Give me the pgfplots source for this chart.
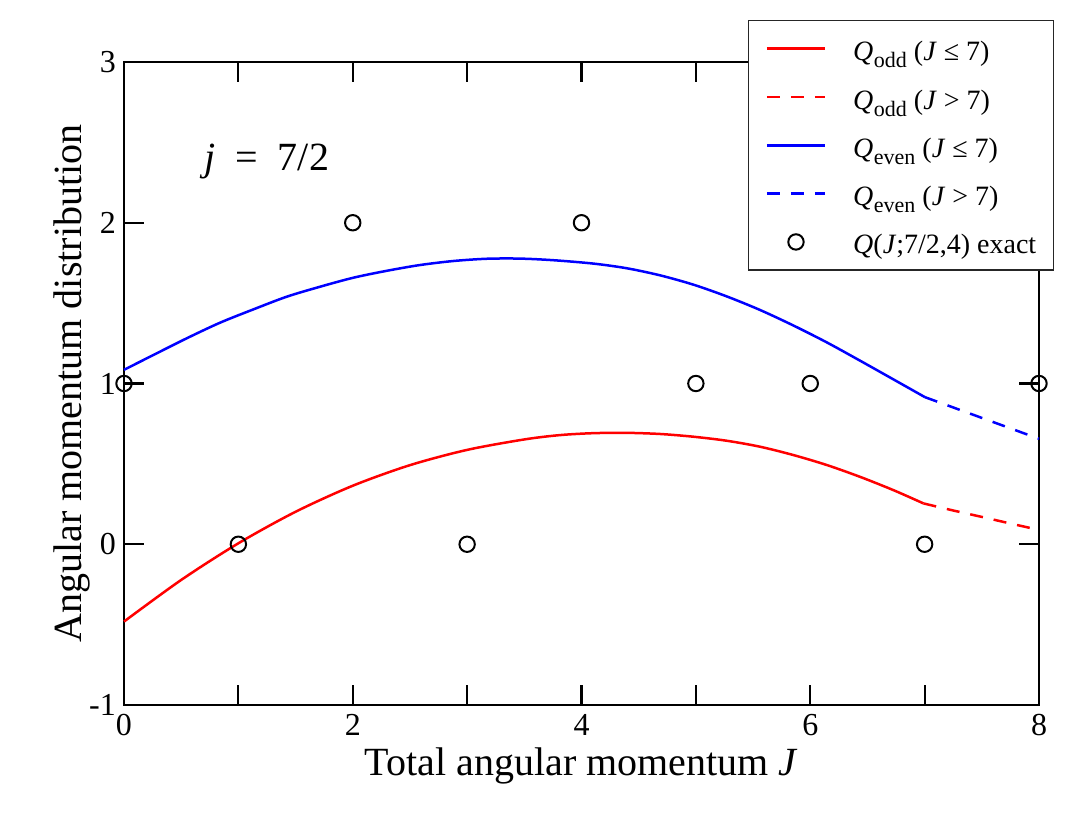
\documentclass[border=0pt]{standalone}
\usepackage{fontspec}
\setmainfont{Liberation Serif}
\usepackage{pgfplots}
\pgfplotsset{compat=1.18}
\newcommand{\sub}[1]{\kern0.5pt\raisebox{-0.25em}{\fontsize{22}{22}\selectfont #1}}
\begin{document}
\begin{tikzpicture}
\useasboundingbox (-124pt,-125pt) rectangle (951pt,705pt);
\begin{axis}[
  scale only axis, width=915pt, height=643pt,
  at={(0pt,0pt)}, anchor=south west,
  xmin=0, xmax=8, ymin=-1, ymax=3,
  clip=false,
  xtick={0,1,2,3,4,5,6,7,8}, xticklabels={0,,2,,4,,6,,8},
  ytick={-1,0,1,2,3}, yticklabels={-1,0,1,2,3},
  minor tick num=0,
  tick align=inside, major tick length=20pt,
  every tick/.style={black, line width=2.2pt},
  axis line style={line width=2.5pt},
  tick label style={font=\fontsize{32}{38}\selectfont, inner sep=0pt},
  xticklabel style={yshift=-9pt},
  yticklabel style={xshift=-8pt},
  xlabel={Total angular momentum \textit{J}},
  ylabel={Angular momentum distribution},
  every axis x label/.style={at={(axis description cs:0.5,0)}, anchor=base, yshift=-70pt, font=\fontsize{40}{48}\selectfont},
  every axis y label/.style={at={(axis description cs:0,0.5)}, rotate=90, anchor=base, yshift=42pt, font=\fontsize{40}{48}\selectfont},
  legend style={at={(axis description cs:1,1)}, anchor=north east, xshift=15pt, yshift=42pt,
    draw=black!85, line width=1.5pt, fill=white,
    font=\fontsize{28}{34}\selectfont,
    inner xsep=17pt, inner ysep=14pt, row sep=20.3pt,
    nodes={inner xsep=0pt, inner ysep=0pt, text height=26pt, text depth=2pt}},
  legend cell align=left,
  legend image code/.code={\draw[mark repeat=2,mark phase=2,#1] plot coordinates {(0pt,0pt)(29pt,0pt)(58pt,0pt)};\path (85pt,0pt);},
]
% Q_odd, J <= 7
\addplot[red, line width=2.5pt, smooth] coordinates {
 (0,-0.481) (0.5,-0.222) (1,0.006) (1.5,0.202) (2,0.364) (2.5,0.492)
 (3,0.587) (3.5,0.652) (3.812,0.679) (4.103,0.691) (4.395,0.693) (4.686,0.686)
 (4.978,0.669) (5.269,0.644) (5.559,0.607) (5.852,0.555) (6.144,0.493)
 (6.433,0.420) (6.726,0.337) (6.99,0.254)};
\addlegendentry{\textit{Q}\sub{odd} (\textit{J} ≤ 7)}
% Q_odd, J > 7
\addplot[red, line width=2.5pt, dash pattern=on 13pt off 11pt] coordinates {
 (6.99,0.254) (7.25,0.210) (7.5,0.170) (7.75,0.129) (8,0.089)};
\addlegendentry{\textit{Q}\sub{odd} (\textit{J} > 7)}
% Q_even, J <= 7
\addplot[blue, line width=2.5pt, smooth] coordinates {
 (0,1.085) (0.256,1.177) (0.548,1.281) (0.839,1.378) (1.131,1.461) (1.423,1.540)
 (1.714,1.602) (2.005,1.658) (2.297,1.701) (2.588,1.737) (2.880,1.762)
 (3.171,1.776) (3.461,1.777) (3.753,1.767) (4.103,1.746) (4.395,1.717)
 (4.686,1.673) (4.978,1.615) (5.269,1.542) (5.559,1.458) (5.852,1.361)
 (6.144,1.256) (6.433,1.143) (6.726,1.026) (7.003,0.915)};
\addlegendentry{\textit{Q}\sub{even} (\textit{J} ≤ 7)}
% Q_even, J > 7
\addplot[blue, line width=2.5pt, dash pattern=on 13pt off 11pt] coordinates {
 (7.003,0.915) (7.25,0.851) (7.5,0.786) (7.75,0.721) (8,0.656)};
\addlegendentry{\textit{Q}\sub{even} (\textit{J} > 7)}
% exact
\addplot[only marks, mark=o, mark size=7.7pt, mark options={line width=2pt, black}] coordinates {
 (0,1) (1,0) (2,2) (3,0) (4,2) (5,1) (6,1) (7,0) (8,1)};
\addlegendentry{\textit{Q}(\textit{J};7/2,4) exact}
\node[anchor=base west, inner sep=0pt, font=\fontsize{40}{48}\selectfont] at (axis cs:0.70,2.327) {\textit{j}\hspace{0.5em}=\hspace{0.5em}7/2};
\end{axis}
\end{tikzpicture}
\end{document}
